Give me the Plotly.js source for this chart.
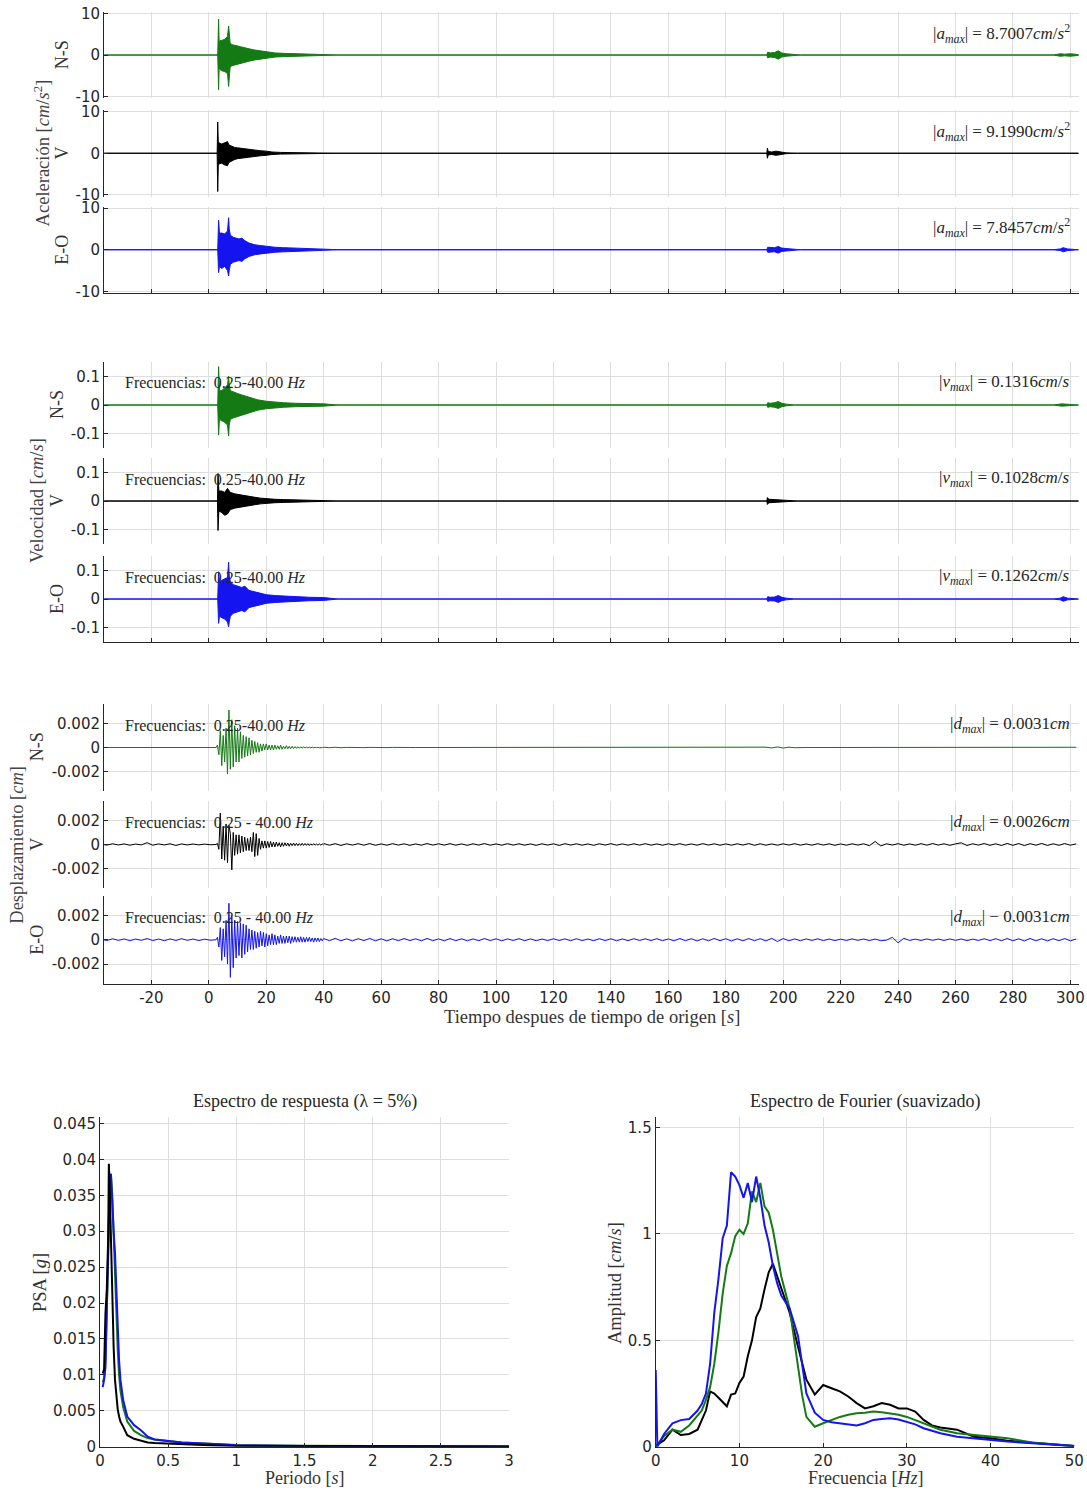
<!DOCTYPE html>
<html>
<head>
<meta charset="utf-8">
<script src="https://cdn.plot.ly/plotly-3.0.1.min.js"></script>
<style>html,body{margin:0;padding:0;background:#fff;}#chart{width:1087px;height:1490px;}</style>
</head>
<body>
<div id="chart"></div>
<script>
// ---------------- DATA ----------------
const timeTicks = [-20,0,20,40,60,80,100,120,140,160,180,200,220,240,260,280,300];
const timeTickText = ['-20','0','20','40','60','80','100','120','140','160','180','200','220','240','260','280','300'];

// Acceleration envelopes [cm/s^2]
const accNS_t  = [-36.4,3.1,3.4,3.6,3.9,4.5,5.5,6.5,6.9,7.1,7.4,8,9,10,11,12,13,14,16,18,20,23,26,30,35,40,45,194.3,194.6,195.5,197,198.3,199.5,201,203,206,294,296.5,298,300,302.8];
const accNS_up = [0,0,8.7,3,3.5,3.5,3.8,4.5,7.0,5,3,2.5,2.4,2.2,2,1.8,1.6,1.5,1.2,1.0,0.7,0.5,0.4,0.3,0.2,0.15,0,0,0.7,0.5,0.6,1.0,0.5,0.3,0.15,0,0,0.3,0.2,0.3,0.1];
const accNS_lo = [0,0,-8.4,-3,-3.5,-3.8,-4,-4.5,-7.6,-5,-3,-2.6,-2.4,-2.2,-2,-1.8,-1.6,-1.5,-1.2,-1,-0.7,-0.5,-0.4,-0.3,-0.2,-0.15,0,0,-0.7,-0.5,-0.6,-1.0,-0.5,-0.3,-0.15,0,0,-0.3,-0.2,-0.3,-0.1];

const accV_t  = [-36.4,2.9,3.1,3.3,3.6,4.5,5.5,6.5,7,8,9,10,12,14,16,18,20,22,25,30,35,45,194.3,194.5,194.8,196,197.5,199,201,205,302.8];
const accV_up = [0,0,7.5,2.5,2.5,2.2,2.5,2.8,2,1.6,1.4,1.3,1.1,0.9,0.7,0.6,0.5,0.3,0.2,0.15,0.1,0,0,1.2,0.4,0.3,0.5,0.3,0.1,0,0];
const accV_lo = [0,0,-9.2,-3,-2.5,-2.4,-2.8,-3,-2.2,-1.8,-1.5,-1.3,-1.1,-0.9,-0.7,-0.6,-0.5,-0.3,-0.2,-0.15,-0.1,0,0,-1.2,-0.4,-0.3,-0.5,-0.3,-0.1,0,0];

const accEO_t  = [-36.4,3.1,3.4,3.7,4.5,5.5,6.5,6.9,7.1,7.5,8.5,9.5,10.5,11.5,12.5,14,16,18,20,23,26,30,35,40,45,194.3,194.6,195.5,197,198.3,199.5,201,203,206,294,296.5,297.5,299,302.8];
const accEO_up = [0,0,7.1,4,4,3.8,4.5,7.7,5,3.5,3,2.8,2.6,2.8,2.2,1.6,1.2,1,0.8,0.6,0.5,0.35,0.25,0.15,0,0,0.6,0.5,0.5,0.8,0.4,0.3,0.15,0,0,0.2,0.5,0.2,0];
const accEO_lo = [0,0,-5.5,-4,-4.5,-4,-5,-6.3,-5,-3.5,-3,-2.8,-2.6,-2.8,-2.2,-1.6,-1.2,-1,-0.8,-0.6,-0.5,-0.35,-0.25,-0.15,0,0,-0.6,-0.5,-0.5,-0.8,-0.4,-0.3,-0.15,0,0,-0.2,-0.5,-0.2,0];

// Velocity envelopes [cm/s]
const velNS_t  = [-36.4,3.1,3.4,3.7,4.5,5.5,6.5,6.9,7.1,7.5,8.5,10,11.5,13,15,17,20,23,26,30,35,40,45,194.3,194.6,195.5,197,198.3,199.5,201,204,294,297,299,302.8];
const velNS_up = [0,0,0.134,0.05,0.05,0.06,0.07,0.1,0.07,0.05,0.045,0.04,0.035,0.03,0.022,0.018,0.013,0.01,0.008,0.006,0.005,0.004,0,0,0.008,0.006,0.008,0.012,0.006,0.003,0,0,0.004,0.003,0];
const velNS_lo = [0,0,-0.105,-0.05,-0.055,-0.06,-0.07,-0.108,-0.07,-0.05,-0.045,-0.04,-0.035,-0.03,-0.022,-0.018,-0.013,-0.01,-0.008,-0.006,-0.005,-0.004,0,0,-0.008,-0.006,-0.008,-0.012,-0.006,-0.003,0,0,-0.004,-0.003,0];

const velV_t  = [-36.4,3.0,3.2,3.5,4.5,5.5,6.5,7.5,9,10.5,12,14,16,18,20,23,26,30,40,45,194.3,194.5,195,197,200,205,302.8];
const velV_up = [0,0,0.096,0.035,0.035,0.03,0.044,0.03,0.025,0.022,0.02,0.015,0.013,0.01,0.008,0.006,0.005,0.004,0.003,0,0,0.012,0.006,0.005,0.003,0,0];
const velV_lo = [0,0,-0.103,-0.035,-0.04,-0.05,-0.045,-0.03,-0.025,-0.022,-0.02,-0.015,-0.013,-0.01,-0.008,-0.006,-0.005,-0.004,-0.003,0,0,-0.012,-0.006,-0.005,-0.003,0,0];

const velEO_t  = [-36.4,3.1,3.4,3.7,4.5,5.5,6.5,6.9,7.1,7.5,8.5,10,11.5,12.5,14,16,18,20,23,26,30,35,40,45,194.3,194.6,195.5,197,198.3,199.5,201,204,294,296.5,297.5,299,302.8];
const velEO_up = [0,0,0.095,0.06,0.065,0.07,0.075,0.128,0.08,0.06,0.05,0.045,0.04,0.045,0.03,0.025,0.02,0.015,0.012,0.01,0.008,0.006,0.005,0,0,0.008,0.006,0.007,0.012,0.006,0.003,0,0,0.003,0.008,0.003,0];
const velEO_lo = [0,0,-0.085,-0.06,-0.065,-0.07,-0.08,-0.097,-0.08,-0.06,-0.05,-0.045,-0.04,-0.045,-0.03,-0.025,-0.02,-0.015,-0.012,-0.01,-0.008,-0.006,-0.005,0,0,-0.008,-0.006,-0.007,-0.012,-0.006,-0.003,0,0,-0.003,-0.008,-0.003,0];

// Displacement samples, in units of 1e-4 cm
const DISP_UNIT = 1e-4;
const dispPre_t0 = -37.5, dispPre_dt = 2;    // pre-event samples
const dispBurst_t0 = 2.5, dispBurst_dt = 0.5; // main shaking samples
const dispPost_t0 = 40, dispPost_dt = 2;     // coda / noise samples

const dispNS_pre = [0,0,0,0,0,0,0,0,0,0,0,0,0,0,0,0,0,0,0,0,0];
const dispNS_burst = [0,2,-6,14,-15,10,-12,16,-22,31,-18,23,-16,18,-12,16,-12,13,-9,10,-8,9,-7,8,-6,6,-5,5,-4,4,-4,3,-3,3,-2,3,-2,2,-2,2,-2,2,-1.5,1.5,-1.5,2,-1.5,1,-1,1.5,-1,1,-1,1,-0.8,0.8,-0.7,0.7,-0.6,0.6,-0.5,0.5,-0.4,0.4,-0.4,0.3,-0.3,0.3,-0.3,0.2,-0.2,0.2,-0.2,0.1,-0.1,0];
const dispNS_post = [
 0.3,-0.2,0.2,-0.2,0.1,-0.1,0.1,-0.1,0.1,-0.1,0.1,-0.1,
 0.1,-0.1,0,0,0,0,0,0,0,0,0,0,
 0,0,0,0,0,0,0,0,0,0,0,0,
 0,0,0,0,0,0,0,0,0,0,0,0,
 0,0,0,0,0,0,0,0,0,0,0,0,
 0,0,0,0,0,0,0,0,0,0,0,0,
 0,0,0,0,0,0.3,-0.4,0.5,-0.5,0.3,-0.2,0.1,
 0,0,0,0,0,0,0,0,0,0,0,0,
 0,0,0,0,0,0,0,0,0,0,0,0,
 0,0,0,0,0,0,0,0,0,0,0,0,
 0,0.1,-0.1,0.1,-0.2,0.2,-0.2,0.3,-0.2,0.2,-0.3,0.2];

const dispV_pre = [0.3,-0.5,0.6,-0.4,0.5,-0.6,0.4,-0.3,1.5,-0.6,0.5,-0.4,0.6,-0.8,0.5,-0.4,0.4,-0.3,0.3,-0.2,0];
const dispV_burst = [0,1,-4,26,-12,15,-13,17,-15,16,9,-21,10,-9,8,-8,8,-7,7,-6,6,-5,5,-5,6,-6,10,-10,9,-9,5,-4,3,-3,3,-3,2.5,-2.5,2.5,-2,2,-2,2,-1.5,1.5,-2,1.5,-1.5,1.5,-1.2,1.2,-1.5,1,-1,1.2,-1,1,-1,0.8,-0.8,1,-0.8,0.8,-0.7,0.7,-0.8,0.6,-0.6,0.7,-0.6,0.5,-0.6,0.5,-0.5,0.5,-0.4];
const dispV_post = [
 0.8,-0.6,0.7,-0.8,0.6,-0.5,0.7,-0.6,0.8,-0.7,0.5,-0.6,
 0.7,-0.5,0.6,-0.7,0.5,-0.6,0.8,-0.5,0.6,-0.5,0.7,-0.6,
 0.5,-0.7,0.6,-0.5,0.8,-0.6,0.5,-0.6,0.7,-0.5,0.6,-0.6,
 0.5,-0.7,0.6,-0.5,0.6,-0.8,0.7,-0.5,0.6,-0.6,0.5,-0.7,
 0.6,-0.5,0.7,-0.6,0.5,-0.6,0.6,-0.5,0.7,-0.6,0.5,-0.6,
 0.6,-0.5,0.7,-0.6,0.5,-0.6,0.7,-0.5,0.6,-0.6,0.5,-0.6,
 0.6,-0.5,0.8,-0.7,0.6,-0.6,0.5,-0.6,0.6,-0.5,0.7,-0.6,
 0.5,-0.6,0.7,-0.5,0.6,-0.7,0.5,-0.6,0.6,-0.5,0.6,-1.0,
 2.5,-1.2,0.6,-0.5,0.7,-0.6,0.5,-0.6,0.7,-0.6,0.8,-0.5,
 0.6,-0.7,0.5,1.4,-0.8,0.6,-0.5,0.8,-0.7,0.6,-0.8,0.9,
 -0.7,0.8,-0.9,0.7,-0.6,0.9,-0.8,0.6,-0.7,0.8,-0.6,0.5];

const dispEO_pre = [0.4,-0.6,0.8,-0.5,0.7,-0.8,0.6,-0.5,1.0,-0.7,0.6,-0.8,0.7,-0.6,0.9,-0.5,0.6,-0.7,0.5,-0.4,0];
const dispEO_burst = [0,2,-6,10,-17,9,-14,16,-20,30,-31,19,-23,16,-15,15,-13,14,-15,13,-12,12,-10,9,-8,8,-8,7,-7,6,-6,7,-5,6,-6,5,-5,4,-4,5,-4,4,-4,3,-3,4,-3,3,-3,3,-2.5,3,-3,2.5,-2,2.5,-2,2,-2,2.5,-2,2,-2,2,-1.5,2,-1.5,1.5,-2,1.5,-1.5,1.5,-1.5,1,-1,1];
const dispEO_post = [
 1.0,-0.8,1.2,-0.9,0.8,-1.0,0.9,-0.7,1.1,-0.9,0.8,-1.0,
 0.9,-0.8,1.0,-0.7,0.8,-0.9,1.1,-0.8,0.7,-0.9,1.0,-0.8,
 0.8,-0.9,0.7,-0.8,1.0,-0.7,0.8,-0.9,0.7,-0.6,0.9,-0.8,
 0.7,-0.8,0.6,-0.7,0.8,-0.6,0.7,-0.8,0.9,-0.7,0.6,-0.8,
 0.9,-0.7,0.8,-0.9,0.7,-0.8,0.9,-0.6,0.8,-0.7,0.9,-0.8,
 0.7,-0.9,1.0,-0.8,0.9,-1.0,0.8,-0.9,1.1,-0.8,0.9,-1.0,
 0.8,-0.9,1.0,-0.8,0.9,-1.0,1.2,-1.5,1.0,-0.9,0.7,-0.8,
 0.7,-0.6,0.8,-0.7,0.6,-0.7,0.5,-0.6,0.7,-0.5,0.6,-0.7,
 0.6,-0.8,-0.3,2.0,-2.5,1.2,-0.6,0.5,-0.6,0.7,-0.5,0.6,
 -0.6,0.7,-0.5,0.6,-0.7,0.5,-0.6,0.8,-0.7,0.9,-0.8,1.0,
 -0.9,0.8,-1.0,1.1,-0.9,0.8,-1.0,0.9,-0.8,1.0,-0.9,0.6];

// Peak values (annotation texts)
const accMax = ['8.7007','9.1990','7.8457'];
const velMax = ['0.1316','0.1028','0.1262'];
const dispMax = ['0.0031','0.0026','0.0031'];
const dispEq = [' = ',' = ',' − '];
const components = ['N-S','V','E-O'];
const velFreqText = ['0.25-40.00','0.25-40.00','0.25-40.00'];
const dispFreqText = ['0.25-40.00','0.25 - 40.00','0.25 - 40.00'];

// Response spectrum (PSA [g] vs period [s])
const psaPeriod = [0.02,0.03,0.04,0.05,0.06,0.065,0.07,0.08,0.09,0.1,0.11,0.12,0.13,0.14,0.15,0.17,0.2,0.25,0.3,0.35,0.4,0.5,0.6,0.8,1.0,1.5,2.0,2.5,3.0];
const psaNS = [0.009,0.0095,0.012,0.018,0.026,0.031,0.034,0.038,0.035,0.029,0.024,0.018,0.0135,0.010,0.0078,0.0055,0.0035,0.0022,0.0016,0.0012,0.001,0.0008,0.0006,0.0004,0.00025,0.00012,0.00008,0.00005,0.00004];
const psaV  = [0.0102,0.0108,0.0185,0.022,0.029,0.0394,0.037,0.0288,0.021,0.0139,0.0093,0.0065,0.0052,0.0042,0.0035,0.0028,0.0016,0.0011,0.0008,0.0006,0.0005,0.0004,0.0003,0.0002,0.0001,0.00006,0.00004,0.00003,0.00002];
const psaEO = [0.0083,0.0093,0.011,0.0204,0.029,0.033,0.0357,0.038,0.033,0.030,0.027,0.021,0.0158,0.012,0.0093,0.0065,0.0042,0.003,0.0023,0.0014,0.001,0.0008,0.0006,0.0004,0.0002,0.0001,0.00007,0.00005,0.00004];

// Smoothed Fourier spectrum (amplitude [cm/s] vs frequency [Hz])
const fourFreq = [0,0.2,1,2,3,4,5,5.5,6,6.5,7,7.5,8,8.5,9,9.5,10,10.5,11,11.5,12,12.5,13,13.5,14,14.5,15,16,17,17.5,18,19,20,21,22,23,24,25,26,27,28,29,30,31,32,33,34,36,38,40,42,45,48,50];
const fourEO = [0.36,0.0,0.06,0.11,0.125,0.13,0.17,0.2,0.25,0.39,0.63,0.79,0.98,1.04,1.29,1.27,1.23,1.17,1.24,1.15,1.27,1.17,1.04,0.96,0.85,0.77,0.71,0.65,0.52,0.39,0.25,0.16,0.126,0.115,0.11,0.105,0.10,0.11,0.126,0.13,0.134,0.128,0.118,0.105,0.087,0.075,0.063,0.047,0.039,0.031,0.024,0.016,0.008,0.003];
const fourNS = [0,0.01,0.05,0.08,0.07,0.1,0.15,0.17,0.22,0.28,0.39,0.54,0.72,0.85,0.91,0.99,1.02,1.0,1.05,1.2,1.15,1.24,1.13,1.10,1.02,0.91,0.80,0.65,0.36,0.24,0.14,0.094,0.11,0.126,0.14,0.15,0.157,0.16,0.165,0.162,0.157,0.15,0.14,0.125,0.11,0.095,0.08,0.063,0.055,0.047,0.04,0.02,0.008,0.003];
const fourV  = [0,0.01,0.03,0.08,0.055,0.06,0.08,0.126,0.17,0.26,0.25,0.23,0.21,0.19,0.245,0.25,0.3,0.33,0.425,0.5,0.61,0.65,0.74,0.82,0.86,0.8,0.74,0.63,0.47,0.39,0.315,0.245,0.29,0.275,0.26,0.236,0.205,0.18,0.19,0.205,0.197,0.18,0.18,0.165,0.126,0.1,0.09,0.08,0.047,0.04,0.028,0.019,0.008,0.003];

// ---------------- DRAWING ----------------
const W = 1087, H = 1490;
const GREEN = '#147a14', BLUE = '#1414f0', BLACK = '#000000';
const compColors = [GREEN, BLACK, BLUE];
const px = v => v / W;
const py = v => 1 - v / H;
const SERIF = 'Liberation Serif, Times New Roman, serif';
const SANS = 'DejaVu Sans, sans-serif';
const GRID = '#dedede', AXC = '#262626';
const TICKFONT = {family: SANS, size: 15, color: AXC};

const traces = [];
const layout = {
  width: W, height: H, margin: {l:0, r:0, t:0, b:0},
  paper_bgcolor: '#fff', plot_bgcolor: '#fff', showlegend: false,
  font: {family: SANS, size: 15, color: AXC},
  annotations: []
};

// panel pixel extents [top, bottom]
const panelPx = [
  [12,98],[110,196.5],[206.5,293],
  [362,448],[458,544],[556,642],
  [704,791],[801,888],[896,983.5]
];
const yRanges = [[-10.4,10.4],[-0.15,0.15],[-0.0036,0.0036]];
const yTicks = [[-10,0,10],[-0.1,0,0.1],[-0.002,0,0.002]];
const yTickText = [['-10','0','10'],['-0.1','0','0.1'],['-0.002','0','0.002']];
const xDom = [px(104), px(1079)];

const env = [
  [accNS_t, accNS_up, accNS_lo],[accV_t, accV_up, accV_lo],[accEO_t, accEO_up, accEO_lo],
  [velNS_t, velNS_up, velNS_lo],[velV_t, velV_up, velV_lo],[velEO_t, velEO_up, velEO_lo]
];
const disp = [
  [dispNS_pre, dispNS_burst, dispNS_post],
  [dispV_pre, dispV_burst, dispV_post],
  [dispEO_pre, dispEO_burst, dispEO_post]
];

for (let p = 0; p < 9; p++) {
  const n = p + 1;
  const g = Math.floor(p / 3), c = p % 3;
  const xa = 'x' + n, ya = 'y' + n;
  const col = compColors[c];
  if (g < 2) {
    const e = env[p];
    traces.push({x: e[0], y: e[1], xaxis: xa, yaxis: ya, mode: 'lines', line: {color: col, width: 1}, hoverinfo: 'skip'});
    traces.push({x: e[0], y: e[2], xaxis: xa, yaxis: ya, mode: 'lines', line: {color: col, width: 1}, fill: 'tonexty', fillcolor: col, hoverinfo: 'skip'});
  } else {
    const d = disp[c];
    const segs = [[d[0], dispPre_t0, dispPre_dt],[d[1], dispBurst_t0, dispBurst_dt],[d[2], dispPost_t0, dispPost_dt]];
    segs.forEach(s => {
      traces.push({y: s[0].map(v => v * DISP_UNIT), x0: s[1], dx: s[2], xaxis: xa, yaxis: ya, mode: 'lines', line: {color: col, width: 1}, hoverinfo: 'skip'});
    });
  }
  const isBottom = (c === 2);
  const isLast = (p === 8);
  layout['xaxis' + n] = {
    domain: xDom, anchor: ya, range: [-36.5, 303],
    tickmode: 'array', tickvals: timeTicks, ticktext: timeTickText,
    showgrid: true, gridcolor: GRID, gridwidth: 1, zeroline: false,
    showline: isBottom, linecolor: AXC, linewidth: 1,
    ticks: isBottom ? 'inside' : '', ticklen: 4, tickcolor: AXC,
    showticklabels: isLast, tickfont: TICKFONT
  };
  layout['yaxis' + n] = {
    domain: [py(panelPx[p][1]), py(panelPx[p][0])], anchor: xa, range: yRanges[g],
    tickmode: 'array', tickvals: yTicks[g], ticktext: yTickText[g],
    showgrid: true, gridcolor: GRID, gridwidth: 1, zeroline: false,
    showline: true, linecolor: AXC, linewidth: 1,
    ticks: 'inside', ticklen: 4, tickcolor: AXC,
    tickfont: TICKFONT
  };
}

// Spectra
traces.push({x: psaPeriod, y: psaNS, xaxis: 'x10', yaxis: 'y10', mode: 'lines', line: {color: GREEN, width: 2}});
traces.push({x: psaPeriod, y: psaEO, xaxis: 'x10', yaxis: 'y10', mode: 'lines', line: {color: BLUE, width: 2}});
traces.push({x: psaPeriod, y: psaV, xaxis: 'x10', yaxis: 'y10', mode: 'lines', line: {color: BLACK, width: 2}});
traces.push({x: fourFreq, y: fourV, xaxis: 'x11', yaxis: 'y11', mode: 'lines', line: {color: BLACK, width: 2}});
traces.push({x: fourFreq, y: fourNS, xaxis: 'x11', yaxis: 'y11', mode: 'lines', line: {color: GREEN, width: 2}});
traces.push({x: fourFreq, y: fourEO, xaxis: 'x11', yaxis: 'y11', mode: 'lines', line: {color: BLUE, width: 2}});

const specY = [py(1446.7), py(1117)];
const specAxis = {
  showgrid: true, gridcolor: GRID, gridwidth: 1, zeroline: false,
  showline: true, linecolor: AXC, linewidth: 1, ticks: 'inside', ticklen: 4, tickcolor: AXC,
  tickfont: TICKFONT
};
layout.xaxis10 = Object.assign({}, specAxis, {domain: [px(100), px(509)], anchor: 'y10', range: [0, 3], tickmode: 'array', tickvals: [0,0.5,1,1.5,2,2.5,3]});
layout.yaxis10 = Object.assign({}, specAxis, {domain: specY, anchor: 'x10', range: [0, 0.0459], tickmode: 'array', tickvals: [0,0.005,0.01,0.015,0.02,0.025,0.03,0.035,0.04,0.045]});
layout.xaxis11 = Object.assign({}, specAxis, {domain: [px(655.7), px(1074.3)], anchor: 'y11', range: [0, 50], tickmode: 'array', tickvals: [0,10,20,30,40,50]});
layout.yaxis11 = Object.assign({}, specAxis, {domain: specY, anchor: 'x11', range: [0, 1.55], tickmode: 'array', tickvals: [0,0.5,1,1.5]});

// Annotations
function ann(text, x, y, opts) {
  layout.annotations.push(Object.assign({
    text: text, x: px(x), y: py(y), xref: 'paper', yref: 'paper', showarrow: false,
    xanchor: 'center', yanchor: 'middle', font: {family: SERIF, size: 18, color: AXC}
  }, opts || {}));
}
const compLabelX = [62, 57, 37];
const groupLabelX = [42, 37, 17];
const groupLabels = ['Aceleración [<i>cm</i>/<i>s</i><sup>2</sup>]', 'Velocidad [<i>cm</i>/<i>s</i>]', 'Desplazamiento [<i>cm</i>]'];
const zeroPx = [55.3,153.4,249.8,405,501,599,747.3,844.7,939.8];
for (let p = 0; p < 9; p++) {
  const g = Math.floor(p / 3), c = p % 3;
  ann(components[c], compLabelX[g], zeroPx[p], {textangle: -90, font: {family: SERIF, size: 18, color: '#333'}});
  const ty = zeroPx[p] - 22;
  let mtxt;
  if (g === 0) mtxt = '|<i>a<sub>max</sub></i>| = ' + accMax[c] + '<i>cm</i>/<i>s</i><sup>2</sup>';
  else if (g === 1) mtxt = '|<i>v<sub>max</sub></i>| = ' + velMax[c] + '<i>cm</i>/<i>s</i>';
  else mtxt = '|<i>d<sub>max</sub></i>|' + dispEq[c] + dispMax[c] + '<i>cm</i>';
  ann(mtxt, 1072, ty, {xanchor: 'right', font: {family: SERIF, size: 17, color: AXC}});
  if (g === 1) ann('Frecuencias:  ' + velFreqText[c] + ' <i>Hz</i>', 123, ty, {xanchor: 'left', font: {family: SERIF, size: 16, color: AXC}});
  if (g === 2) ann('Frecuencias:  ' + dispFreqText[c] + ' <i>Hz</i>', 123, ty, {xanchor: 'left', font: {family: SERIF, size: 16, color: AXC}});
}
for (let g = 0; g < 3; g++) {
  ann(groupLabels[g], groupLabelX[g], zeroPx[g * 3 + 1], {textangle: -90, font: {family: SERIF, size: 18.5, color: '#444'}});
}
ann('Tiempo despues de tiempo de origen [<i>s</i>]', 591.5, 1017, {font: {family: SERIF, size: 18.5, color: '#333'}});
ann('Espectro de respuesta (λ = 5%)', 304.5, 1101, {font: {family: SERIF, size: 18, color: AXC}});
ann('Espectro de Fourier (suavizado)', 865, 1101, {font: {family: SERIF, size: 18, color: AXC}});
ann('PSA [<i>g</i>]', 40, 1283, {textangle: -90, font: {family: SERIF, size: 18.5, color: '#333'}});
ann('Amplitud [<i>cm</i>/<i>s</i>]', 615, 1283, {textangle: -90, font: {family: SERIF, size: 18.5, color: '#333'}});
ann('Periodo [<i>s</i>]', 304.5, 1478, {font: {family: SERIF, size: 18, color: '#333'}});
ann('Frecuencia [<i>Hz</i>]', 865, 1478, {font: {family: SERIF, size: 18, color: '#333'}});

Plotly.newPlot('chart', traces, layout, {staticPlot: true, displayModeBar: false});
</script>
</body>
</html>
